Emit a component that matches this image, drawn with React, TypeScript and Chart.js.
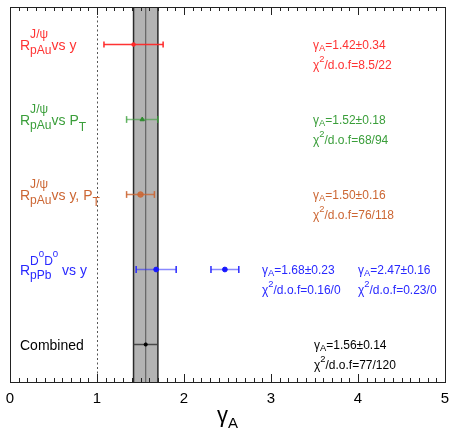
import React, { useEffect, useRef } from 'react';
import { Chart, registerables } from 'chart.js';

Chart.register(...registerables);

const FONT = '"Liberation Sans", Arial, Helvetica, sans-serif';

// ---------------- data ----------------
const SERIES_NAMES = ['J/psi pAu vs y', 'J/psi pAu vs pT', 'J/psi pAu vs y,pT', 'D0D0 pPb vs y (a)', 'D0D0 pPb vs y (b)', 'Combined'];
const GAMMA_A = [1.42, 1.52, 1.5, 1.68, 2.47, 1.56];
const GAMMA_ERR = [0.34, 0.18, 0.16, 0.23, 0.16, 0.14];
const CHI2_NDF = ['8.5/22', '68/94', '76/118', '0.16/0', '0.23/0', '77/120'];
const ROW_Y = [4.5, 3.5, 2.5, 1.5, 1.5, 0.5];
const X_TICKS = [0, 1, 2, 3, 4, 5];
const X_RANGE = [0, 5];
const Y_RANGE = [0, 5];
const REF_LINE_X = 1;
const COMBINED_VALUE = 1.56;
const COMBINED_ERR = 0.14;

type Part = { t?: string; sup?: string | Part[]; sub?: string; up?: number; dn?: number; sc?: number };

const JPSI: Part = { t: 'R', sup: 'J/ψ', sub: 'pAu', up: 0.88, dn: 0.3, sc: 0.86 };
const ROW_LABELS: { parts: Part[]; row: number }[] = [
  { parts: [JPSI, { t: 'vs y' }], row: 0 },
  { parts: [JPSI, { t: 'vs P', sub: 'T', dn: 0.4, sc: 0.86 }], row: 1 },
  { parts: [JPSI, { t: 'vs y, P', sub: 'T', dn: 0.4, sc: 0.86 }], row: 2 },
  { parts: [{ t: 'R', sup: [{ t: 'D', sup: '0', up: 0.62, sc: 0.8 }, { t: 'D', sup: '0', up: 0.62, sc: 0.8 }], sub: 'pPb', up: 0.72, dn: 0.3, sc: 0.86 }, { t: ' vs y' }], row: 3 },
  { parts: [{ t: 'Combined' }], row: 5 },
];

// ---------------- styles / layout ----------------
const TEXT_COLORS = ['#ff3333', '#3a9e3a', '#cc6633', '#2828ff', '#2828ff', '#000000'];
const LINE_COLORS = ['rgba(255,40,40,0.95)', 'rgba(60,160,60,0.6)', 'rgba(204,102,51,0.8)', 'rgba(40,40,255,0.55)', 'rgba(40,40,255,0.55)', 'rgba(60,60,60,0.9)'];
const CAP_COLORS = ['#ff2828', 'rgba(60,160,60,0.8)', 'rgba(204,102,51,0.9)', '#2828ff', '#2828ff', '#333'];
const MARKERS = ['circle', 'triangle', 'circle', 'circle', 'circle', 'circle'];
const MARKER_R = [1.8, 2.5, 2.8, 2.4, 2.4, 1.6];
const MARKER_BG = ['#ff2828', '#2e8b2e', 'rgba(204,102,51,0.85)', '#1818ff', '#1818ff', '#000'];
const CAP_R = [3, 3.4, 3.4, 3.6, 3.6, 0];
const STAT_X = [3.483, 3.483, 3.483, 2.897, 4.0, 3.494];
const LABEL_X = 0.115;

function drawParts(ctx: CanvasRenderingContext2D, parts: Part[], x: number, y: number, size: number, draw: boolean): number {
  let cx = x;
  for (const p of parts) {
    ctx.font = `${size}px ${FONT}`;
    if (p.t) {
      if (draw) ctx.fillText(p.t, cx, y);
      cx += ctx.measureText(p.t).width;
    }
    const ss = size * (p.sc ?? 0.78);
    let w = 0;
    if (p.sup) {
      const sp: Part[] = typeof p.sup === 'string' ? [{ t: p.sup }] : p.sup;
      w = Math.max(w, drawParts(ctx, sp, cx, y - size * (p.up ?? 0.55), ss, draw));
    }
    if (p.sub) {
      w = Math.max(w, drawParts(ctx, [{ t: p.sub }], cx, y + size * (p.dn ?? 0.22), ss, draw));
    }
    cx += w;
  }
  return cx - x;
}

const overlay = {
  id: 'overlay',
  beforeDatasetsDraw(chart: any) {
    const { ctx, chartArea: a, scales } = chart;
    const x = scales.x;
    const bl = x.getPixelForValue(COMBINED_VALUE - COMBINED_ERR);
    const br = x.getPixelForValue(COMBINED_VALUE + COMBINED_ERR);
    const bc = x.getPixelForValue(COMBINED_VALUE);
    ctx.save();
    ctx.fillStyle = '#b3b3b3';
    ctx.fillRect(bl, a.top, br - bl, a.bottom - a.top);
    ctx.strokeStyle = '#2a2a2a';
    ctx.lineWidth = 1.5;
    ctx.beginPath();
    ctx.moveTo(bl, a.top); ctx.lineTo(bl, a.bottom);
    ctx.moveTo(br, a.top); ctx.lineTo(br, a.bottom);
    ctx.stroke();
    ctx.strokeStyle = '#555';
    ctx.lineWidth = 1;
    ctx.beginPath();
    ctx.moveTo(bc, a.top); ctx.lineTo(bc, a.bottom);
    ctx.stroke();
    // reference dashed line
    const rx = Math.round(x.getPixelForValue(REF_LINE_X)) + 0.5;
    ctx.strokeStyle = '#555';
    ctx.setLineDash([2, 2.5]);
    ctx.beginPath();
    ctx.moveTo(rx, a.top); ctx.lineTo(rx, a.bottom);
    ctx.stroke();
    ctx.restore();
  },
  afterDraw(chart: any) {
    const { ctx, chartArea: a, scales } = chart;
    const x = scales.x, y = scales.y;
    ctx.save();
    // frame
    ctx.strokeStyle = '#222';
    ctx.lineWidth = 1;
    ctx.strokeRect(Math.round(a.left) + 0.5, Math.round(a.top) + 0.5, Math.round(a.right - a.left), Math.round(a.bottom - a.top));
    // ticks (inward, top and bottom)
    ctx.beginPath();
    for (let i = 0; i <= 50; i++) {
      const v = X_RANGE[0] + i * 0.1;
      const px = Math.round(x.getPixelForValue(v)) + 0.5;
      const len = i % 10 === 0 ? 8 : 4;
      ctx.moveTo(px, a.bottom); ctx.lineTo(px, a.bottom - len);
      ctx.moveTo(px, a.top); ctx.lineTo(px, a.top + len);
    }
    ctx.stroke();
    // row labels
    ctx.textBaseline = 'alphabetic';
    ctx.textAlign = 'left';
    for (const lb of ROW_LABELS) {
      ctx.fillStyle = TEXT_COLORS[lb.row];
      const px = x.getPixelForValue(LABEL_X);
      const py = y.getPixelForValue(ROW_Y[lb.row]) + 5.5;
      drawParts(ctx, lb.parts, px, py, 14, true);
    }
    // fit results
    for (let i = 0; i < GAMMA_A.length; i++) {
      ctx.fillStyle = TEXT_COLORS[i];
      const px = x.getPixelForValue(STAT_X[i]);
      const py = y.getPixelForValue(ROW_Y[i]);
      drawParts(ctx, [{ t: 'γ', sub: 'A', dn: 0.18 }, { t: `=${GAMMA_A[i].toFixed(2)}±${GAMMA_ERR[i].toFixed(2)}` }], px, py + 4, 12, true);
      drawParts(ctx, [{ t: 'χ', sup: '2', up: 0.55 }, { t: `/d.o.f=${CHI2_NDF[i]}` }], px, py + 24.5, 12, true);
    }
    // axis title
    ctx.fillStyle = '#000';
    ctx.font = `22px ${FONT}`;
    const w1 = ctx.measureText('γ').width;
    ctx.font = `15px ${FONT}`;
    const w2 = ctx.measureText('A').width;
    const cx = (a.left + a.right) / 2 - (w1 + w2) / 2;
    drawParts(ctx, [{ t: 'γ' }], cx, 422, 22, true);
    ctx.font = `15px ${FONT}`;
    ctx.fillText('A', cx + w1, 428);
    ctx.restore();
  },
};

export default function App() {
  const ref = useRef<HTMLCanvasElement>(null);
  useEffect(() => {
    if (!ref.current) return;
    const datasets: any[] = [];
    for (let i = 0; i < GAMMA_A.length; i++) {
      datasets.push({
        label: SERIES_NAMES[i] + ' err',
        data: [
          { x: GAMMA_A[i] - GAMMA_ERR[i], y: ROW_Y[i] },
          { x: GAMMA_A[i] + GAMMA_ERR[i], y: ROW_Y[i] },
        ],
        showLine: true,
        borderColor: LINE_COLORS[i],
        borderWidth: 1.5,
        pointStyle: 'line',
        rotation: 90,
        pointRadius: CAP_R[i],
        pointBorderColor: CAP_COLORS[i],
        pointBorderWidth: 1.5,
        order: 1,
      });
      datasets.push({
        label: SERIES_NAMES[i],
        data: [{ x: GAMMA_A[i], y: ROW_Y[i] }],
        showLine: false,
        pointStyle: MARKERS[i],
        pointRadius: MARKER_R[i],
        pointBackgroundColor: MARKER_BG[i],
        pointBorderColor: MARKER_BG[i],
        pointBorderWidth: 1,
        order: 0,
      });
    }
    const chart = new Chart(ref.current, {
      type: 'scatter',
      data: { datasets },
      options: {
        animation: false,
        responsive: false,
        devicePixelRatio: 1,
        layout: { padding: { left: 10, right: 7, top: 7, bottom: 0 } },
        plugins: { legend: { display: false }, tooltip: { enabled: false } },
        scales: {
          x: {
            type: 'linear',
            min: X_RANGE[0],
            max: X_RANGE[1],
            afterFit: (s: any) => { s.height = 51; s.paddingLeft = 0; s.paddingRight = 0; },
            afterBuildTicks: (s: any) => { s.ticks = X_TICKS.map((v) => ({ value: v })); },
            grid: { display: false, drawTicks: false },
            border: { display: false },
            ticks: { padding: 8, color: '#000', font: { family: FONT, size: 15 }, maxRotation: 0, autoSkip: false },
          },
          y: { type: 'linear', min: Y_RANGE[0], max: Y_RANGE[1], display: false },
        },
      },
      plugins: [overlay],
    } as any);
    return () => chart.destroy();
  }, []);
  return (
    <div style={{ position: 'fixed', left: 0, top: 0, width: 452, height: 433, background: '#fff' }}>
      <canvas ref={ref} width={452} height={433} style={{ width: 452, height: 433, display: 'block' }} />
    </div>
  );
}
